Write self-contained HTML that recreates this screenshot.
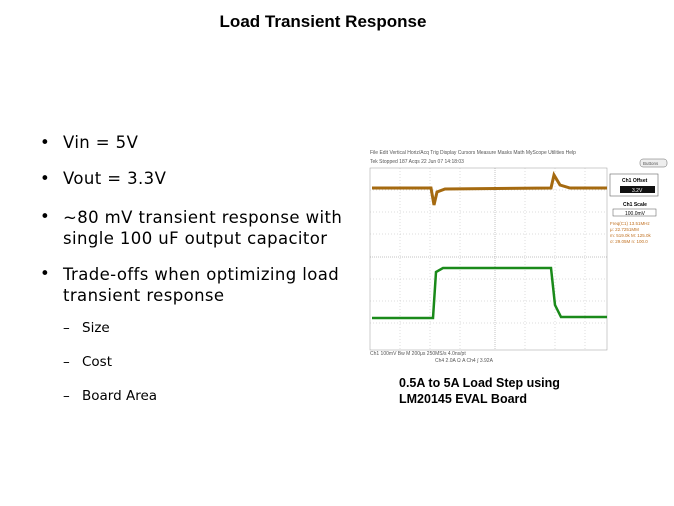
<!DOCTYPE html><html><head><style>
body{margin:0;width:674px;height:506px;background:#fff;position:relative;font-family:"Liberation Sans",sans-serif;overflow:hidden}
.t{position:absolute;white-space:nowrap;color:#000}
.b{font-size:16.5px;font-family:"DejaVu Sans",sans-serif;letter-spacing:0.4px}
.s{font-size:13.5px;font-family:"DejaVu Sans",sans-serif}
</style></head><body>
<div class="t" style="left:0;width:646px;text-align:center;top:12px;font-size:17px;font-weight:bold">Load Transient Response</div>
<div class="t b" style="left:40px;top:133px">•</div><div class="t b" style="left:63px;top:133px">Vin = 5V</div>
<div class="t b" style="left:40px;top:169px">•</div><div class="t b" style="left:63px;top:169px">Vout = 3.3V</div>
<div class="t b" style="left:40px;top:207px">•</div><div class="t b" style="left:63px;top:207px;line-height:21px">~80 mV transient response with<br>single 100 uF output capacitor</div>
<div class="t b" style="left:40px;top:264px">•</div><div class="t b" style="left:63px;top:264px;line-height:21px">Trade-offs when optimizing load<br>transient response</div>
<div class="t s" style="left:63px;top:320px">–</div><div class="t s" style="left:82px;top:320px">Size</div>
<div class="t s" style="left:63px;top:354px">–</div><div class="t s" style="left:82px;top:354px">Cost</div>
<div class="t s" style="left:63px;top:388px">–</div><div class="t s" style="left:82px;top:388px">Board Area</div>
<div class="t" style="left:399px;top:375px;font-size:12.5px;font-weight:bold;line-height:16px">0.5A to 5A Load Step using<br>LM20145 EVAL Board</div>
<svg style="position:absolute;left:365px;top:145px" width="305" height="222" font-family="Liberation Sans" font-size="5" fill="#555">
<text x="5" y="9">File  Edit  Vertical  Horiz/Acq  Trig  Display  Cursors  Measure  Masks  Math  MyScope  Utilities  Help</text>
<text x="5" y="18">Tek  Stopped              187 Acqs                          22 Jun 07 14:18:03</text>
<rect x="5" y="23" width="237" height="182" fill="#fff" stroke="#999" stroke-width="0.5"/>
<g stroke="#bbb" stroke-width="0.5" stroke-dasharray="1,2">
<line x1="35" y1="23" x2="35" y2="205"/><line x1="65" y1="23" x2="65" y2="205"/><line x1="95" y1="23" x2="95" y2="205"/>
<line x1="160" y1="23" x2="160" y2="205"/><line x1="190" y1="23" x2="190" y2="205"/><line x1="220" y1="23" x2="220" y2="205"/>
<line x1="5" y1="45" x2="242" y2="45"/><line x1="5" y1="67" x2="242" y2="67"/><line x1="5" y1="89" x2="242" y2="89"/>
<line x1="5" y1="134" x2="242" y2="134"/><line x1="5" y1="156" x2="242" y2="156"/><line x1="5" y1="178" x2="242" y2="178"/>
</g>
<line x1="130" y1="23" x2="130" y2="205" stroke="#888" stroke-width="0.5" stroke-dasharray="1,1"/>
<line x1="5" y1="112" x2="242" y2="112" stroke="#888" stroke-width="0.5" stroke-dasharray="1,1"/>
<path d="M7 43 L66 43 L69 60 L72 47 L80 44 L186 43 L189 30 L195 40 L205 43 L242 43" fill="none" stroke="#a56a10" stroke-width="3"/>
<path d="M7 173 L68 173 L71 127 L78 123 L186 123 L190 160 L196 172 L242 172" fill="none" stroke="#1a8a1a" stroke-width="2.5"/>
<text x="5" y="210">Ch1    100mV    Bw                                       M 200μs 250MS/s     4.0ns/pt</text>
<text x="70" y="217">Ch4    2.0A    Ω                      A  Ch4  ∫  3.92A</text>
<rect x="275" y="14" width="27" height="8" rx="3" fill="#eee" stroke="#666" stroke-width="0.5"/>
<text x="278" y="20" font-size="4.5">Buttons</text>
<rect x="245" y="29" width="48" height="22" fill="#fff" stroke="#666" stroke-width="0.6"/>
<text x="257" y="37" font-weight="bold" fill="#000">Ch1 Offset</text>
<rect x="255" y="41" width="35" height="7" fill="#111"/><text x="267" y="47" fill="#fff">3.2V</text>
<text x="258" y="61" font-weight="bold" fill="#000">Ch1 Scale</text>
<rect x="248" y="64" width="43" height="7" fill="#fff" stroke="#555" stroke-width="0.5"/><text x="260" y="70" fill="#000">100.0mV</text>
<g fill="#c07020" font-size="4.5"><text x="245" y="80">Freq(C1)    13.51MHz</text><text x="245" y="86">μ: 22.7251MM</text><text x="245" y="92">m: 519.0k   M: 125.0k</text><text x="245" y="98">σ: 29.05M   n: 100.0</text></g>
</svg>
</body></html>
